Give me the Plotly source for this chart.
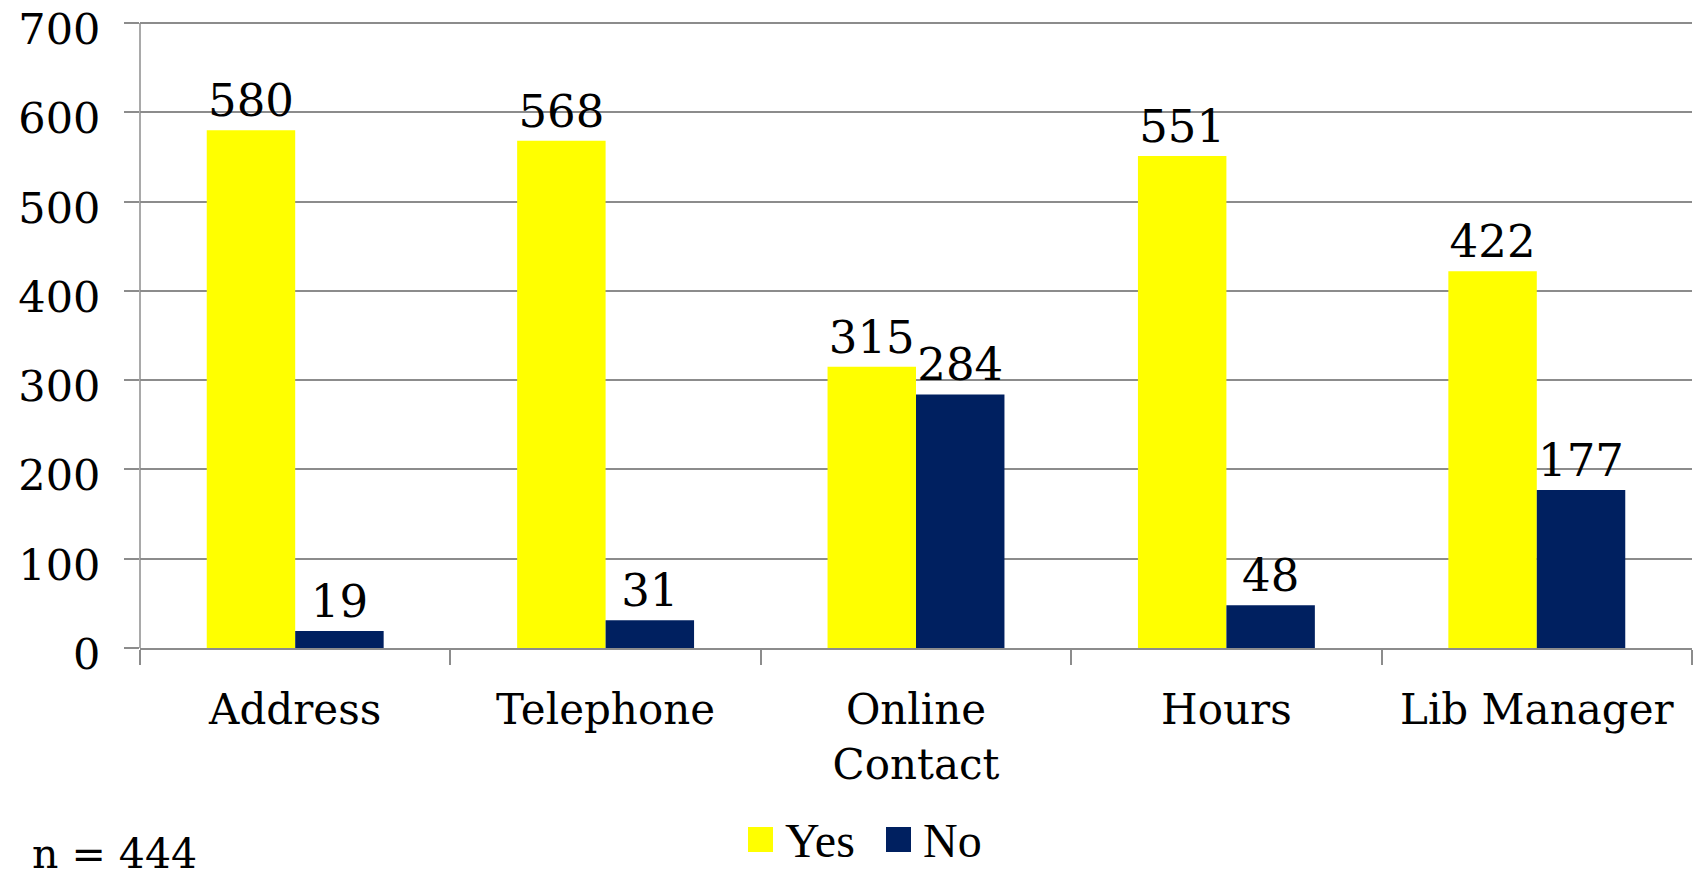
import plotly.graph_objects as go

categories = ["Address", "Telephone", "Online<br>Contact", "Hours", "Lib Manager"]
yes_values = [580, 568, 315, 551, 422]
no_values = [19, 31, 284, 48, 177]
y_ticks = [0, 100, 200, 300, 400, 500, 600, 700]
sample_note = "n = 444"

YES_COLOR = "#FFFF00"
NO_COLOR = "#002060"
SERIF = "DejaVu Serif"
LEGEND_FONT = "Liberation Serif"

W, H = 1696, 877
L, R, T, B = 140, 4, 16, 229
PW, PH = W - L - R, H - T - B
Y_TOP_PX = 23  # where the 700 gridline sits
Y_MAX = 700 * PH / (H - B - Y_TOP_PX)


def px_x(px):
    return (px - L) / PW


def px_y(py):
    return (H - B - py) / PH


fig = go.Figure()
for name, vals, color in [("Yes", yes_values, YES_COLOR), ("No", no_values, NO_COLOR)]:
    fig.add_trace(go.Bar(
        x=categories, y=vals, name=name,
        marker=dict(color=color, line=dict(width=0)),
        text=[str(v) for v in vals], textposition="outside",
        textfont=dict(family=SERIF, size=45, color="black"),
        constraintext="none", cliponaxis=False, showlegend=False,
    ))

# hand-placed legend: square swatches with labels
shapes = []
annotations = []
for name, color, x0 in [("Yes", YES_COLOR, 748), ("No", NO_COLOR, 886)]:
    shapes.append(dict(type="rect", xref="paper", yref="paper",
                       x0=px_x(x0), x1=px_x(x0 + 25), y0=px_y(852), y1=px_y(827),
                       fillcolor=color, line=dict(width=0)))
    annotations.append(dict(text=name, xref="paper", yref="paper",
                            x=px_x(x0 + 35), y=px_y(840), xanchor="left", yanchor="middle",
                            showarrow=False, font=dict(family=LEGEND_FONT, size=48, color="black")))

annotations.append(dict(text=sample_note, xref="paper", yref="paper",
                        x=px_x(30), y=px_y(880), xanchor="left", yanchor="bottom",
                        showarrow=False, font=dict(family=SERIF, size=41, color="black")))

fig.update_layout(
    width=W, height=H,
    margin=dict(l=L, r=R, t=T, b=B, pad=0, autoexpand=False),
    paper_bgcolor="white", plot_bgcolor="white",
    barmode="group", bargap=0.43, bargroupgap=0,
    shapes=shapes, annotations=annotations,
    showlegend=False,
)
fig.update_xaxes(
    automargin=False,
    showline=True, linecolor="#8c8c8c", linewidth=1.5,
    ticks="outside", tickson="boundaries", ticklen=15, tickcolor="#8c8c8c", tickwidth=1.5,
    tickfont=dict(family=SERIF, size=42, color="black"),
    ticklabelstandoff=24,
)
fig.update_yaxes(
    automargin=False,
    range=[0, Y_MAX], tickvals=y_ticks,
    showline=False,
    showgrid=True, gridcolor="#8c8c8c", gridwidth=1.5,
    ticks="outside", ticklen=15, tickcolor="#8c8c8c", tickwidth=1.5,
    tickfont=dict(family=SERIF, size=43, color="black"),
    ticklabelstandoff=15, ticklabelshift=6, ticklabeloverflow="allow", zeroline=False,
)
# vertical axis line running from 0 up to the 700 gridline
fig.add_shape(type="line", xref="paper", yref="y", x0=0, x1=0, y0=0, y1=700,
              line=dict(color="#8c8c8c", width=1.5))

fig.write_html("out.html")
